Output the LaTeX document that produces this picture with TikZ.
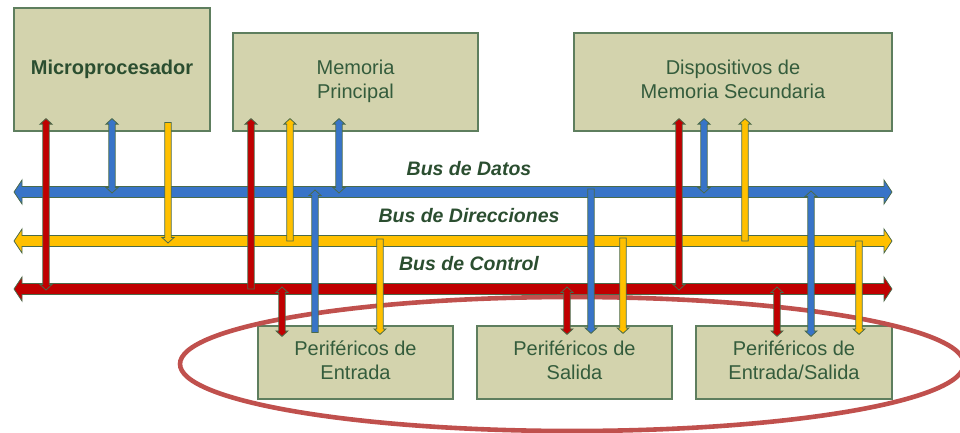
\documentclass[tikz,border=0pt]{standalone}
\usepackage{fontspec}
\setmainfont{Liberation Sans}
\usetikzlibrary{calc}
\definecolor{boxfill}{HTML}{D3D3AD}
\definecolor{boxedge}{HTML}{5E7E5E}
\definecolor{txtgreen}{HTML}{345C3C}
\definecolor{lblgreen}{HTML}{2B4E30}
\definecolor{busblue}{HTML}{3874C8}
\definecolor{busyellow}{HTML}{FFC000}
\definecolor{busred}{HTML}{C00000}
\definecolor{arredge}{HTML}{4A6A4A}
\definecolor{ellred}{HTML}{C0504D}
\tikzset{
  box/.style={draw=boxedge, fill=boxfill, line width=1.2pt, text=txtgreen,
    font=\fontsize{20}{24}\selectfont, align=center, inner sep=0pt},
  buslabel/.style={text=lblgreen, font=\fontsize{19.5}{24}\selectfont\bfseries\itshape, inner sep=0pt, anchor=base},
  conn/.style={draw=arredge, line width=0.8pt, line join=miter},
  busline/.style={draw=arredge, line width=0.8pt, line join=miter},
}
% double-headed vertical connector: colour, x, top anchor, bottom anchor
\newcommand\vboth[4]{\path[conn,fill=#1] let \p1=(#3),\p2=(#4) in
 ({#2pt},\y1) -- ({#2pt+6pt},\y1-5.5pt) -- ({#2pt+3.2pt},\y1-5.5pt) -- ({#2pt+3.2pt},\y2+5.5pt)
 -- ({#2pt+6pt},\y2+5.5pt) -- ({#2pt},\y2) -- ({#2pt-6pt},\y2+5.5pt) -- ({#2pt-3.2pt},\y2+5.5pt)
 -- ({#2pt-3.2pt},\y1-5.5pt) -- ({#2pt-6pt},\y1-5.5pt) -- cycle;}
% head at top only
\newcommand\vup[4]{\path[conn,fill=#1] let \p1=(#3),\p2=(#4) in
 ({#2pt},\y1) -- ({#2pt+6pt},\y1-5.5pt) -- ({#2pt+3.2pt},\y1-5.5pt) -- ({#2pt+3.2pt},\y2)
 -- ({#2pt-3.2pt},\y2) -- ({#2pt-3.2pt},\y1-5.5pt) -- ({#2pt-6pt},\y1-5.5pt) -- cycle;}
% head at bottom only
\newcommand\vdown[4]{\path[conn,fill=#1] let \p1=(#3),\p2=(#4) in
 ({#2pt-3.2pt},\y1) -- ({#2pt+3.2pt},\y1) -- ({#2pt+3.2pt},\y2+5.5pt) -- ({#2pt+6pt},\y2+5.5pt)
 -- ({#2pt},\y2) -- ({#2pt-6pt},\y2+5.5pt) -- ({#2pt-3.2pt},\y2+5.5pt) -- cycle;}
% horizontal bus: colour, y
\newcommand\busbar[2]{\draw[busline, fill=#1] (14,#2) -- (22,#2-12) -- (22,#2-5.5) -- (884,#2-5.5)
 -- (884,#2-12) -- (892,#2) -- (884,#2+12) -- (884,#2+5.5) -- (22,#2+5.5) -- (22,#2+12) -- cycle;}
\begin{document}
\begin{tikzpicture}[x=1pt,y=-1pt]
\useasboundingbox (0,0) rectangle (960,433);
% boxes
\node[box, minimum width=196pt, minimum height=123pt] (mp) at (112,69.5) {\strut\textbf{\color{lblgreen}Microprocesador}};
\node[box, minimum width=245pt, minimum height=98pt] (mem) at (355.5,82) {\strut Memoria\\Principal\strut};
\node[box, minimum width=318pt, minimum height=98pt] (dms) at (733,82) {\strut Dispositivos de\\Memoria Secundaria\strut};
\node[box, minimum width=195pt, minimum height=73pt] (pe) at (355.5,362.5) {\strut Periféricos de\\Entrada\strut};
\node[box, minimum width=195pt, minimum height=73pt] (ps) at (574.5,362.5) {\strut Periféricos de\\Salida\strut};
\node[box, minimum width=196pt, minimum height=73pt] (pes) at (794,362.5) {\strut Periféricos de\\Entrada/Salida\strut};
% buses
\coordinate (datos) at (0,192);
\coordinate (direcciones) at (0,241);
\coordinate (control) at (0,289);
\busbar{busblue}{192}
\busbar{busyellow}{241}
\busbar{busred}{289}
\node[buslabel] (ldatos) at (469,175) {Bus de Datos};
\node[buslabel] (ldir) at (469,222) {Bus de Direcciones};
\node[buslabel] (lctl) at (469,270) {Bus de Control};
% ellipse
\draw[ellred, line width=4.6pt] (572,364) ellipse [x radius=392, y radius=67];
% microprocesador
\vboth{busred}{46}{[yshift=13pt]mp.south}{[yshift=-1pt]control}
\vboth{busblue}{112}{[yshift=13pt]mp.south}{[yshift=-1pt]datos}
\vdown{busyellow}{168}{[yshift=9pt]mp.south}{[yshift=-2pt]direcciones}
% memoria principal
\vup{busred}{251}{[yshift=13pt]mem.south}{control}
\vup{busyellow}{290}{[yshift=13pt]mem.south}{direcciones}
\vboth{busblue}{339}{[yshift=13pt]mem.south}{[yshift=-1pt]datos}
% dispositivos
\vboth{busred}{679}{[yshift=13pt]dms.south}{[yshift=-1pt]control}
\vboth{busblue}{704}{[yshift=13pt]dms.south}{[yshift=-1pt]datos}
\vup{busyellow}{745}{[yshift=13pt]dms.south}{direcciones}
% perifericos de entrada
\vboth{busred}{282}{[yshift=2pt]control}{[yshift=-11pt]pe.north}
\vup{busblue}{315}{[yshift=2pt]datos}{[yshift=-7pt]pe.north}
\vdown{busyellow}{380}{[yshift=2pt]direcciones}{[yshift=-9pt]pe.north}
% perifericos de salida
\vboth{busred}{567}{[yshift=2pt]control}{[yshift=-9pt]ps.north}
\vdown{busblue}{591}{[yshift=3pt]datos}{[yshift=-8pt]ps.north}
\vdown{busyellow}{623}{[yshift=3pt]direcciones}{[yshift=-8pt]ps.north}
% perifericos de entrada/salida
\vboth{busred}{777}{[yshift=2pt]control}{[yshift=-11pt]pes.north}
\vboth{busblue}{811}{[yshift=1pt]datos}{[yshift=-11pt]pes.north}
\vdown{busyellow}{859}{direcciones}{[yshift=-9pt]pes.north}
\end{tikzpicture}
\end{document}
